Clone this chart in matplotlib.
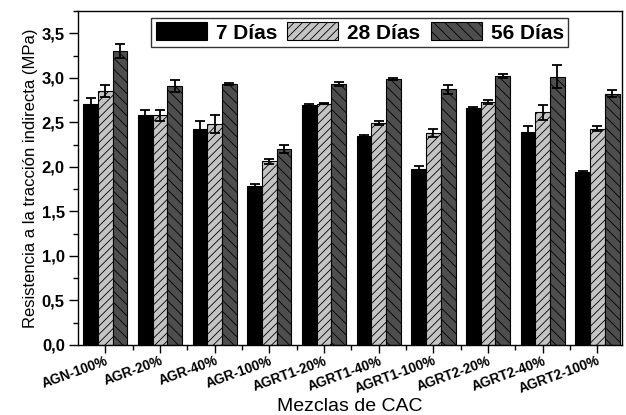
import numpy as np
import matplotlib
matplotlib.use("Agg")
import matplotlib.pyplot as plt
import matplotlib.transforms as mtrans
from matplotlib.ticker import MultipleLocator, FuncFormatter, FixedLocator

plt.rcParams['font.family'] = ['Liberation Sans', 'DejaVu Sans']
plt.rcParams['hatch.linewidth'] = 0.6

# data
mezclas = ['AGN-100%', 'AGR-20%', 'AGR-40%', 'AGR-100%', 'AGRT1-20%',
           'AGRT1-40%', 'AGRT1-100%', 'AGRT2-20%', 'AGRT2-40%', 'AGRT2-100%']
d7 = [2.70, 2.58, 2.43, 1.78, 2.69, 2.35, 1.98, 2.66, 2.39, 1.94]
d7_err = [0.07, 0.06, 0.08, 0.03, 0.01, 0.01, 0.03, 0.01, 0.07, 0.01]
d28 = [2.85, 2.58, 2.48, 2.06, 2.71, 2.49, 2.38, 2.73, 2.61, 2.43]
d28_err = [0.07, 0.06, 0.10, 0.03, 0.01, 0.02, 0.04, 0.02, 0.08, 0.03]
d56 = [3.30, 2.91, 2.93, 2.20, 2.93, 2.99, 2.87, 3.02, 3.01, 2.82]
d56_err = [0.08, 0.07, 0.01, 0.04, 0.02, 0.01, 0.05, 0.02, 0.13, 0.04]
series = ['7 Días', '28 Días', '56 Días']

fig = plt.figure(figsize=(6.26, 4.15), dpi=100)
ax = fig.add_axes([0.1246, 0.169, 0.869, 0.8045])

x = np.arange(len(mezclas))
w = 0.27
styles = [dict(color='black', hatch=None),
          dict(color='#c4c4c4', hatch='////'),
          dict(color='#4e4e4e', hatch='\\\\\\')]
for i, (vals, errs, lab) in enumerate(zip([d7, d28, d56], [d7_err, d28_err, d56_err], series)):
    ax.bar(x + (i - 1) * w, vals, w, color=styles[i]['color'], hatch=styles[i]['hatch'],
           edgecolor='black', linewidth=0.8, label=lab)
    ax.errorbar(x + (i - 1) * w, vals, yerr=errs, fmt='none', ecolor='black',
                elinewidth=1.3, capsize=3.5, capthick=1.3)

ax.set_xlim(-0.5, 9.45)
ax.set_ylim(0, 3.75)
ax.yaxis.set_major_locator(MultipleLocator(0.5))
ax.yaxis.set_minor_locator(MultipleLocator(0.25))
ax.yaxis.set_major_formatter(FuncFormatter(lambda v, p: ('%.1f' % v).replace('.', ',')))
ax.set_xticks(x)
ax.xaxis.set_minor_locator(FixedLocator(x[:-1] + 0.5))
ax.set_xticklabels(mezclas, rotation=20, ha='right', va='top', rotation_mode='anchor',
                   fontsize=9.8, fontweight='bold')
shift = mtrans.ScaledTranslation(5 / 72, 0, fig.dpi_scale_trans)
for t in ax.get_xticklabels():
    t.set_transform(t.get_transform() + shift)
for t in ax.get_yticklabels():
    t.set_fontweight('bold')
    t.set_fontsize(12)
ax.tick_params(axis='both', which='major', direction='out', length=6.5, width=1)
ax.tick_params(axis='both', which='minor', direction='out', length=3.5, width=1)
ax.tick_params(axis='x', which='major', length=6, pad=0.5)
ax.tick_params(axis='y', which='major', pad=3)
for s in ax.spines.values():
    s.set_linewidth(1.0)

ax.set_ylabel('Resistencia a la tracción indirecta (MPa)', fontsize=12, labelpad=3)
ax.set_xlabel('Mezclas de CAC', fontsize=14, labelpad=1)

leg = ax.legend(loc='upper center', bbox_to_anchor=(0.518, 1.0), ncol=3,
                prop={'weight': 'bold', 'size': 15}, frameon=True, fancybox=False,
                edgecolor='black', handlelength=2.45, handleheight=0.95,
                columnspacing=0.5, handletextpad=0.43, borderpad=0.2, borderaxespad=0.35)
leg.get_frame().set_linewidth(1.0)

fig.savefig('out.png', dpi=100)
